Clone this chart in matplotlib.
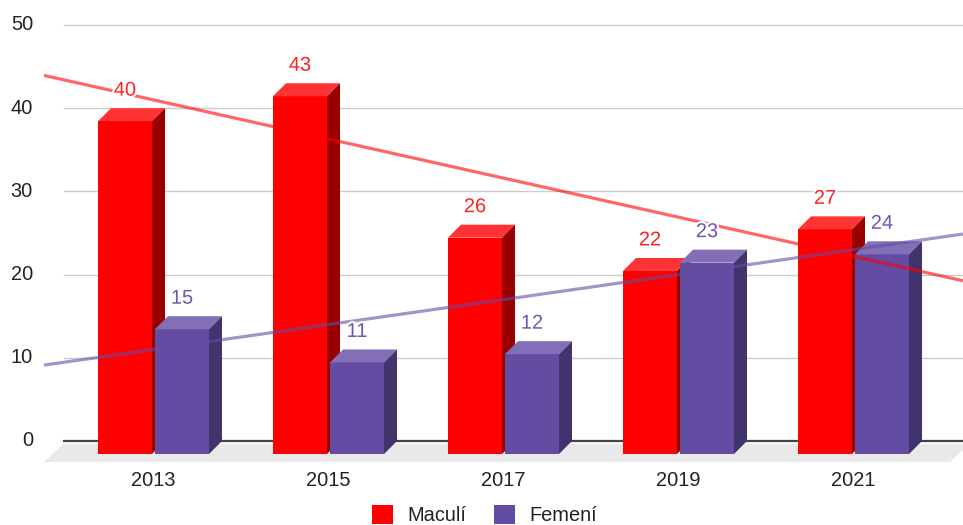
import numpy as np
import matplotlib
matplotlib.use("Agg")
import matplotlib.pyplot as plt
from matplotlib.patches import Polygon, Patch
import matplotlib.patheffects as pe

# ---- data ----
categories = ["2013", "2015", "2017", "2019", "2021"]
years = [2013, 2015, 2017, 2019, 2021]
series_names = ["Maculí", "Femení"]
maculi = [40, 43, 26, 22, 27]
femeni = [15, 11, 12, 23, 24]
yticks = [0, 10, 20, 30, 40, 50]

plt.rcParams['font.family'] = ['Liberation Sans', 'DejaVu Sans']

W, H = 963, 525
fig = plt.figure(figsize=(W / 100, H / 100), dpi=100)
ax = fig.add_axes([0, 0, 1, 1])

# layout mapping (pixels from top-left -> data)
CX0, CSTEP = 153.5, 175.0   # pixel of first category centre, spacing
Y0, PPU = 441.0, 8.32       # pixel of value 0, pixels per unit


def X(px):
    return (px - CX0) / CSTEP


def Y(py):
    return (Y0 - py) / PPU


ax.set_xlim(X(0), X(W))
ax.set_ylim(Y(H), Y(0))
ax.axis('off')

dx = 13 / CSTEP   # depth offset in x
dy = 13 / PPU     # depth offset in y
bw = 54 / CSTEP   # bar width
boff = 28.5 / CSTEP

# floor
floor = Polygon([(X(44), Y(462)), (X(950), Y(462)), (X(969), Y(444)), (X(63), Y(444))],
                closed=True, facecolor='#e9e9e9', edgecolor='none', zorder=0)
ax.add_patch(floor)

# gridlines
for t in yticks[1:]:
    ax.plot([X(64), X(W)], [t, t], color='#cccccc', lw=1.0, zorder=1)
ax.plot([X(64), X(W)], [0, 0], color='#444444', lw=1.6, zorder=1)

# y tick labels
for t in yticks:
    ax.text(X(33), t, str(t), ha='right', va='center', fontsize=14.4, color='#222222')

xs = np.arange(len(categories))
for i, c in enumerate(categories):
    ax.text(xs[i], Y(481), c, ha='center', va='center', fontsize=14.4, color='#222222')

styles = [
    dict(front='#ff0000', top='#ff3333', side='#990000', label='#ff2020'),
    dict(front='#634da3', top='#826fb8', side='#41336b', label='#6b57b0'),
]
series = [maculi, femeni]
offsets = [-boff, boff]

for s, (vals, st, off) in enumerate(zip(series, styles, offsets)):
    xc = xs + off
    ax.bar(xc, vals, width=bw, bottom=-dy, color=st['front'], edgecolor='none', zorder=3 + s)
    for x, v in zip(xc, vals):
        x0 = x - bw / 2
        top = Polygon([(x0, v - dy), (x0 + bw, v - dy), (x0 + bw + dx, v), (x0 + dx, v)],
                      closed=True, facecolor=st['top'], edgecolor='none', zorder=3 + s)
        side = Polygon([(x0 + bw, -dy), (x0 + bw + dx, 0), (x0 + bw + dx, v), (x0 + bw, v - dy)],
                       closed=True, facecolor=st['side'], edgecolor='none', zorder=3 + s)
        ax.add_patch(top)
        ax.add_patch(side)

# trendlines (linear regression on the data)
tx = np.array([X(44), X(W)])
tyears = years[0] + (years[1] - years[0]) * tx
for vals, st in zip(series, styles):
    k, b = np.polyfit(years, vals, 1)
    ax.plot(tx, k * tyears + b, color=st['front'], alpha=0.6, lw=2.3,
            solid_capstyle='butt', zorder=6)

# value labels
for vals, st, off in zip(series, styles, offsets):
    for x, v in zip(xs + off, vals):
        ax.annotate(str(v), (x, v), xytext=(0, 18 * 0.72), textcoords='offset points',
                    ha='center', va='center', fontsize=14.4, color=st['label'], zorder=8,
                    path_effects=[pe.withStroke(linewidth=3, foreground='white')])

handles = [Patch(facecolor=styles[0]['front'], label=series_names[0]),
           Patch(facecolor=styles[1]['front'], label=series_names[1])]
fig.legend(handles=handles, loc='center', bbox_to_anchor=(484.5 / W, 1 - 515 / H),
           ncol=2, frameon=False, fontsize=14.4, handlelength=1.05, handleheight=1.05,
           handletextpad=0.7, columnspacing=1.4, labelcolor='#222222')

fig.savefig('out.png', dpi=100)
